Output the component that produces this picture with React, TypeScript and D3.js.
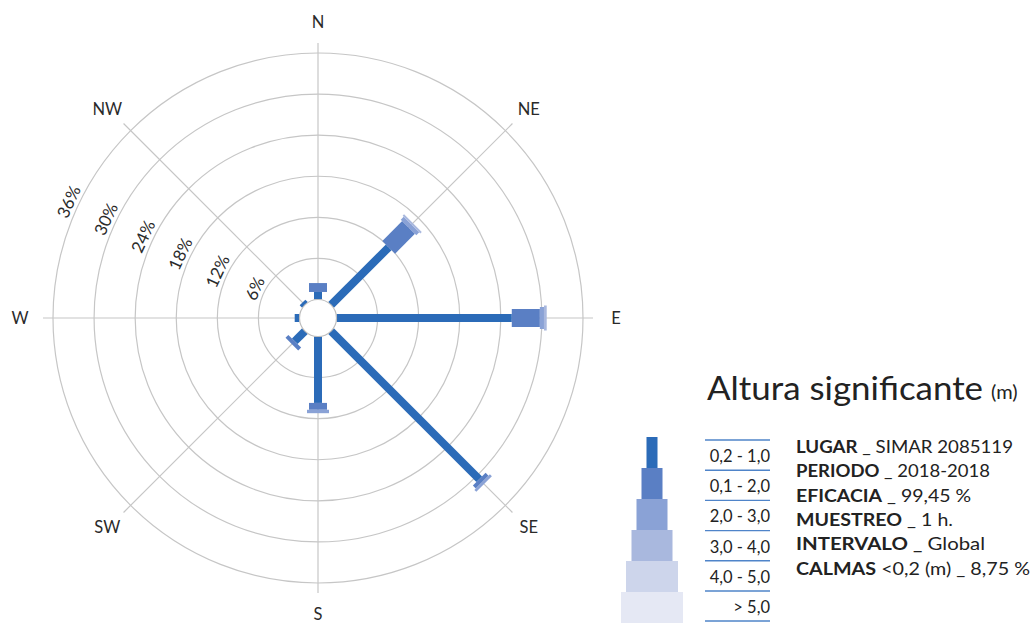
import * as d3 from "d3";

// wave height rose: frequency (%) per direction and height class
const directions = ["N", "NE", "E", "SE", "S", "SW", "W", "NW"];
const heightClasses = ["0,2 - 1,0", "0,1 - 2,0", "2,0 - 3,0", "3,0 - 4,0", "4,0 - 5,0", "> 5,0"];
const frequency = [
  [1.1, 1.3, 0, 0, 0, 0], // N
  [11.9, 4.1, 0.6, 0.3, 0, 0], // NE
  [25.6, 4.1, 0.6, 0.4, 0, 0], // E
  [30.6, 0.6, 0.4, 0, 0, 0], // SE
  [9.7, 1.0, 0.5, 0, 0, 0], // S
  [2.1, 0.6, 0, 0, 0, 0], // SW
  [0.7, 0, 0, 0, 0, 0], // W
  [0.5, 0, 0, 0, 0, 0], // NW
];
const ringTicks = [6, 12, 18, 24, 30, 36];
const infoLines = [
  ["LUGAR", " _ SIMAR 2085119"],
  ["PERIODO", " _ 2018-2018"],
  ["EFICACIA", " _ 99,45 %"],
  ["MUESTREO", " _ 1 h."],
  ["INTERVALO", " _ Global"],
  ["CALMAS", " <0,2 (m) _ 8,75 %"],
];

const colors = ["#2b6bb8", "#5a7fc4", "#8aa2d6", "#a9b8de", "#cdd5eb", "#e5e8f4"];
const barWidths = [8, 18, 22, 25, 28, 31];
const legendWidths = [11, 21, 31, 41, 52, 62];
// widths the info lines take up in the picture
const infoWidths = [217, 194, 175, 157, 189, 234];
const font = "Lato, 'Open Sans', sans-serif";

export default function App() {
  const cx = 318, cy = 318;
  const r0 = 18.5, R = 265;
  const r = d3.scaleLinear().domain([0, 36]).range([r0, R]);
  const bearing = d3.scaleBand().domain(directions).range([0, 360]);

  const grid = "#c6c6c6";

  return (
    <svg width={1036} height={625} style={{ position: "absolute", left: 0, top: 0 }} fontFamily={font}>
      <rect width={1036} height={625} fill="#fff" />
      <g transform={`translate(${cx},${cy})`}>
        {ringTicks.map((t) => (
          <circle key={t} r={r(t)} fill="none" stroke={grid} strokeWidth={1.2} />
        ))}
        {directions.map((d) => (
          <line key={d} x1={0} y1={0} x2={0} y2={-(R + 10)} stroke={grid} strokeWidth={1.2}
            transform={`rotate(${bearing(d)})`} />
        ))}
        {directions.map((d, i) => {
          const stack = d3.cumsum(frequency[i]);
          return (
            <g key={d} transform={`rotate(${bearing(d)})`}>
              {frequency[i].map((v, k) => {
                if (v <= 0) return null;
                const start = k === 0 ? 0 : stack[k - 1];
                const y0 = r(start), y1 = r(stack[k]);
                return (
                  <rect key={k} x={-barWidths[k] / 2} width={barWidths[k]} y={-y1} height={y1 - y0}
                    fill={colors[k]} />
                );
              })}
            </g>
          );
        })}
        <circle r={r0} fill="#fff" stroke="#bdbdbd" strokeWidth={1.2} />
        {directions.map((d) => {
          const a = ((bearing(d) as number) * Math.PI) / 180;
          return (
            <text key={d} x={298 * Math.sin(a)} y={-296 * Math.cos(a)} textAnchor="middle"
              dominantBaseline="central" fontSize={16.5} fill="#2a2a2a">{d}</text>
          );
        })}
        {ringTicks.map((t) => (
          <g key={t} transform="rotate(-65)">
            <text x={0} y={-(r(t) + 4)} textAnchor="middle" fontSize={17} fill="#2a2a2a">{t}%</text>
          </g>
        ))}
      </g>

      <text x={707} y={400} fontSize={33} fill="#222" textLength={276} lengthAdjust="spacingAndGlyphs">
        Altura significante
      </text>
      <text x={991} y={399} fontSize={20} fill="#222">(m)</text>

      {heightClasses.map((c, k) => (
        <g key={c}>
          <rect x={652 - legendWidths[k] / 2} y={437 + k * 31} width={legendWidths[k]} height={31}
            fill={colors[k]} />
          <line x1={705} x2={770} y1={440 + k * 30.2} y2={440 + k * 30.2} stroke="#4f84c9" strokeWidth={1.4} />
          <text x={770} y={462 + k * 30.2} textAnchor="end" fontSize={16.5} fill="#222">{c}</text>
        </g>
      ))}
      <line x1={705} x2={770} y1={621} y2={621} stroke="#4f84c9" strokeWidth={1.4} />

      {infoLines.map(([b, rest], i) => (
        <text key={b} x={796} y={453 + i * 24.3} fontSize={16.5} fill="#222"
          textLength={infoWidths[i]} lengthAdjust="spacingAndGlyphs">
          <tspan fontWeight="bold">{b}</tspan>
          <tspan>{rest}</tspan>
        </text>
      ))}
    </svg>
  );
}
